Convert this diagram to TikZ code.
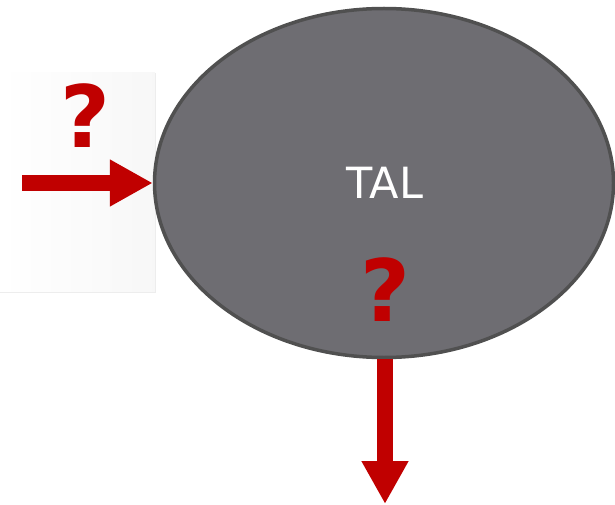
\documentclass[tikz,border=0pt]{standalone}
\usepackage{fontspec}
\setmainfont{DejaVu Sans}
\usetikzlibrary{shapes.geometric,arrows.meta}
\definecolor{talfill}{HTML}{6E6D72}
\definecolor{taledge}{HTML}{505050}
\definecolor{qred}{HTML}{C00000}
\tikzset{
  flow/.style={draw=qred, line width=16pt, -{Triangle[length=43pt,width=44pt]}},
  query/.style={text=qred, font=\fontsize{86}{86}\selectfont\bfseries, inner sep=0pt},
}
\begin{document}
\begin{tikzpicture}[x=1pt,y=-1pt]
  \useasboundingbox (0,0) rectangle (615,505);
  % faint backdrop panel on the left
  \shade[left color=white, right color=black!3] (0,73) rectangle (155,292);
  \draw[black!7, line width=1pt] (0,292) -- (155,292) -- (155,73);
  % central process
  \node[ellipse, draw=taledge, line width=3.5pt, fill=talfill,
        minimum width=459pt, minimum height=349pt, inner sep=0pt]
        (tal) at (384,183) {};
  \node[text=white, font=\fontsize{43}{43}\selectfont] (label) at (385,183) {TAL};
  % input and output
  \coordinate (src) at (22,183);
  \coordinate (dst) at (385,504);
  \draw[flow] (src) -- (tal.west);
  \draw[flow] (dst |- tal.south) -- (dst);
  \node[query] (qin) at (85,116) {?};
  \node[query] (qout) at (385,290) {?};
\end{tikzpicture}
\end{document}
